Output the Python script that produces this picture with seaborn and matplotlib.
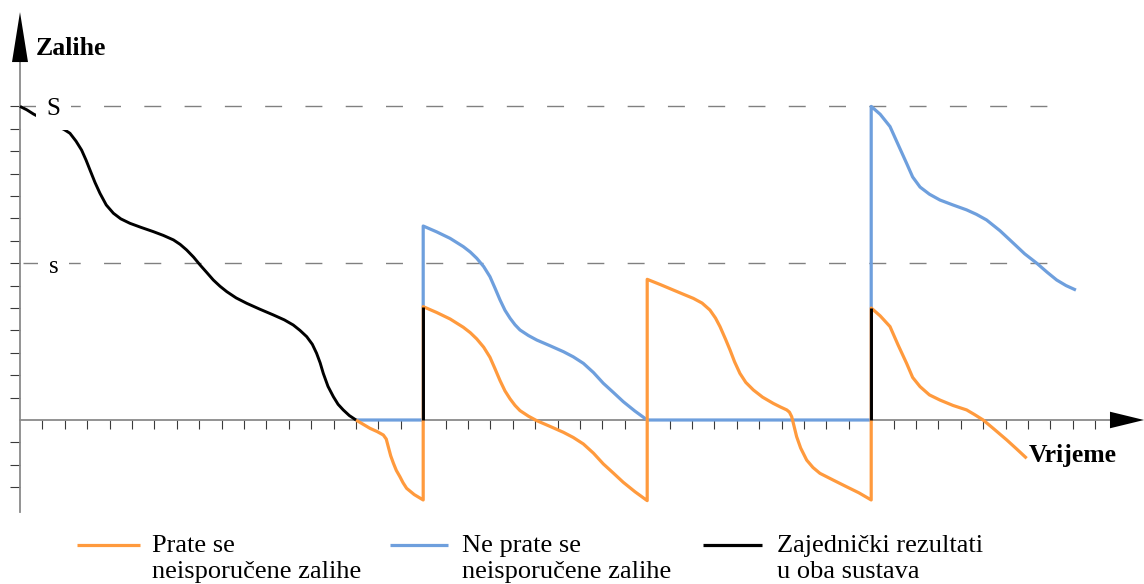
import matplotlib
matplotlib.use("Agg")
import matplotlib.pyplot as plt
import pandas as pd
import seaborn as sns
from matplotlib.lines import Line2D

sns.set_style("white")
plt.rcParams["font.family"] = ["Liberation Serif", "DejaVu Serif"]
plt.rcParams["text.color"] = "black"
plt.rcParams["lines.solid_joinstyle"] = "round"
plt.rcParams["lines.solid_capstyle"] = "butt"

ORANGE = "#FF9A3D"
BLUE = "#6E9FDD"
BLACK = "#000000"
GRID_GREY = "#808080"

# Order-up-to level and reorder point
S_LEVEL = 14.0
s_LEVEL = 7.0

# Shared history before the first stock-out (both systems identical)
common_t = [0, 0.3, 0.6, 1.0, 1.3, 1.64, 1.95, 2.23, 2.5, 2.75, 2.95, 3.125, 3.35,
            3.57, 3.85, 4.17, 4.5, 4.91, 5.4, 5.95, 6.4, 6.85, 7.15, 7.44, 7.75,
            8.04, 8.35, 8.63, 8.93, 9.23, 9.65, 10.12, 10.7, 11.31, 11.8, 12.2,
            12.5, 12.8, 13.05, 13.24, 13.4, 13.54, 13.75, 13.99, 14.2, 14.43, 14.7, 15.0]
common_y = [14.0, 13.85, 13.66, 13.45, 13.3, 13.1, 12.98, 12.8, 12.45, 12.05, 11.6,
            11.16, 10.6, 10.12, 9.6, 9.23, 8.98, 8.78, 8.6, 8.41, 8.24, 8.04, 7.84,
            7.59, 7.27, 6.92, 6.57, 6.25, 5.97, 5.73, 5.45, 5.21, 4.95, 4.69, 4.47,
            4.24, 4.0, 3.72, 3.38, 2.98, 2.55, 2.08, 1.5, 1.04, 0.7, 0.45, 0.2, 0.0]

# Deliveries where both systems end up at the same level
common_jump_t = [18.0, 38.0]
common_jump_y = [5.06, 5.0]

# Backorders tracked (orange)
tracked_t1 = [15.0, 15.3, 15.62, 15.95, 16.22, 16.35, 16.44, 16.55, 16.67, 16.8,
              16.96, 17.1, 17.26, 17.6, 18.0]
tracked_y1 = [0.0, -0.18, -0.37, -0.52, -0.67, -0.85, -1.19, -1.6, -1.93, -2.25,
              -2.53, -2.8, -3.05, -3.33, -3.57]
tracked_t2 = [18.0, 18.6, 19.2, 19.79, 20.1, 20.39, 20.7, 20.98, 21.2, 21.43, 21.65,
              21.88, 22.1, 22.32, 22.7, 23.07, 23.65, 24.26, 24.7, 25.15, 25.6,
              26.04, 26.5, 26.93, 27.45, 28.0]
tracked_y2 = [5.06, 4.80, 4.51, 4.14, 3.90, 3.62, 3.25, 2.80, 2.30, 1.76, 1.30,
              0.94, 0.65, 0.42, 0.17, -0.03, -0.28, -0.55, -0.78, -1.07, -1.48,
              -1.96, -2.38, -2.78, -3.2, -3.6]
tracked_t3 = [28.0, 28.6, 29.17, 29.6, 30.06, 30.45, 30.8, 31.05, 31.25, 31.5, 31.7,
              31.9, 32.14, 32.4, 32.74, 33.15, 33.63, 33.95, 34.23, 34.35, 34.45,
              34.55, 34.67, 34.85, 35.12, 35.4, 35.71, 36.3, 36.9, 37.45, 38.0]
tracked_y3 = [6.28, 6.04, 5.80, 5.62, 5.43, 5.22, 4.91, 4.55, 4.17, 3.6, 3.12,
              2.6, 2.08, 1.68, 1.34, 1.02, 0.74, 0.58, 0.45, 0.35, 0.15,
              -0.25, -0.74, -1.25, -1.79, -2.12, -2.38, -2.68, -2.98, -3.25, -3.57]
tracked_t4 = [38.0, 38.4, 38.84, 39.2, 39.58, 39.85, 40.18, 40.6, 41.07, 41.65,
              42.26, 42.6, 43.0, 43.5, 44.05, 44.5, 44.94]
tracked_y4 = [5.0, 4.65, 4.17, 3.35, 2.53, 1.9, 1.49, 1.12, 0.89, 0.65,
              0.45, 0.25, 0.0, -0.42, -0.89, -1.3, -1.71]

# Backorders not tracked (blue): stock never goes below zero
lost_t1 = [15.0, 18.0]
lost_y1 = [0.0, 0.0]
lost_t2 = [18.0, 18.6, 19.2, 19.79, 20.1, 20.39, 20.7, 20.98, 21.2, 21.43, 21.65,
           21.88, 22.1, 22.32, 22.7, 23.07, 23.65, 24.26, 24.7, 25.15, 25.6,
           26.04, 26.5, 26.93, 27.45, 28.0]
lost_y2 = [8.66, 8.4, 8.11, 7.74, 7.5, 7.22, 6.85, 6.4, 5.9, 5.36, 4.9,
           4.54, 4.25, 4.02, 3.77, 3.57, 3.32, 3.05, 2.82, 2.53, 2.12,
           1.64, 1.22, 0.82, 0.4, 0.0]
lost_t3 = [28.0, 38.0]
lost_y3 = [0.0, 0.0]
lost_t4 = [38.0, 38.4, 38.84, 39.2, 39.58, 39.85, 40.18, 40.6, 41.07, 41.65, 42.26,
           42.7, 43.15, 43.75, 44.35, 44.85, 45.39, 45.85, 46.28, 46.7, 47.14]
lost_y4 = [14.0, 13.65, 13.1, 12.3, 11.46, 10.85, 10.4, 10.08, 9.82, 9.6, 9.38,
           9.18, 8.93, 8.45, 7.89, 7.42, 7.0, 6.6, 6.25, 6.0, 5.8]

legend_labels = [("Prate se", "neisporučene zalihe"),
                 ("Ne prate se", "neisporučene zalihe"),
                 ("Zajednički rezultati", "u oba sustava")]

# ---------------------------------------------------------------- data frames
tracked = pd.DataFrame({
    "t": tracked_t1 + tracked_t2 + tracked_t3 + tracked_t4,
    "y": tracked_y1 + tracked_y2 + tracked_y3 + tracked_y4,
})
lost = pd.DataFrame({
    "t": lost_t1 + lost_t2 + lost_t3 + lost_t4,
    "y": lost_y1 + lost_y2 + lost_y3 + lost_y4,
})
common_rows = [("curve", t, y) for t, y in zip(common_t, common_y)]
for i, (t, y) in enumerate(zip(common_jump_t, common_jump_y)):
    common_rows += [(f"jump{i}", t, 0.0), (f"jump{i}", t, y)]
common = pd.DataFrame(common_rows, columns=["seg", "t", "y"])

# ---------------------------------------------------------------- figure
W, H = 1144, 584
UNIT = 22.4            # pixels per unit on both axes
X0, Y0 = 20, 420       # pixel position of the origin

fig = plt.figure(figsize=(W / 100, H / 100), dpi=100)
ax = fig.add_axes([0, 0, 1, 1])
ax.set_xlim(-X0 / UNIT, (W - X0) / UNIT)
ax.set_ylim((Y0 - H) / UNIT, Y0 / UNIT)
ax.set_facecolor("white")

# axes through the origin with outward ticks
for side in ("top", "right"):
    ax.spines[side].set_visible(False)
for side in ("left", "bottom"):
    ax.spines[side].set_position(("data", 0))
    ax.spines[side].set_color("#8a8a8a")
    ax.spines[side].set_linewidth(1.3)
ax.spines["left"].set_bounds(-4.1, 16.0)
ax.spines["bottom"].set_bounds(0, 48.7)
ax.set_xticks(range(1, 49))
ax.set_yticks([v for v in range(-3, 15) if v != 0])
ax.tick_params(axis="x", direction="out", length=6.5, width=0.8, color="#3a3a3a",
               labelbottom=False, bottom=True)
ax.tick_params(axis="y", direction="out", length=7.2, width=0.8, color="#3a3a3a",
               labelleft=False, left=True)

# arrow heads
ax.fill([-0.357, 0.357, 0], [15.98, 15.98, 18.21], color="black", zorder=6, lw=0)
ax.fill([48.66, 48.66, 50.18], [-0.37, 0.37, 0], color="black", zorder=6, lw=0)

# S and s reference levels
for level in (S_LEVEL, s_LEVEL):
    ax.plot([0.13, 46.07], [level, level], color=GRID_GREY, lw=1.0,
            dashes=(12.2, 16.8), zorder=1)

# inventory paths
sns.lineplot(data=lost, x="t", y="y", sort=False, estimator=None, color=BLUE,
             lw=2.3, ax=ax, legend=False, zorder=3)
sns.lineplot(data=tracked, x="t", y="y", sort=False, estimator=None, color=ORANGE,
             lw=2.3, ax=ax, legend=False, zorder=4)
sns.lineplot(data=common, x="t", y="y", units="seg", sort=False, estimator=None,
             color=BLACK, lw=2.1, ax=ax, legend=False, zorder=5)
ax.set_xlabel("")
ax.set_ylabel("")

# level labels with white background
box = dict(boxstyle="square,pad=0.42", fc="white", ec="none")
ax.text(1.5, 13.62, "S", fontsize=18, ha="center", va="baseline", bbox=box, zorder=7)
ax.text(1.5, 6.55, "s", fontsize=18, ha="center", va="baseline", bbox=box, zorder=7)

# axis titles
ax.text(0.71, 16.29, "Zalihe", fontsize=18.5, fontweight="bold", ha="left",
        va="baseline", zorder=7)
ax.text(45.05, -1.875, "Vrijeme", fontsize=18.5, fontweight="bold", ha="left",
        va="baseline", zorder=7)

# legend below the plot
legend_items = [(ORANGE, 77, 140, 152), (BLUE, 390, 448, 462), (BLACK, 703, 762, 777)]
for (color, x_start, x_end, x_text), (line1, line2) in zip(legend_items, legend_labels):
    fig.add_artist(Line2D([x_start / W, x_end / W], [1 - 545 / H, 1 - 545 / H],
                          color=color, lw=2.3))
    fig.text(x_text / W, 1 - 552 / H, line1, fontsize=19, va="baseline", ha="left")
    fig.text(x_text / W, 1 - 578 / H, line2, fontsize=19, va="baseline", ha="left")

fig.savefig("out.png", dpi=100)
